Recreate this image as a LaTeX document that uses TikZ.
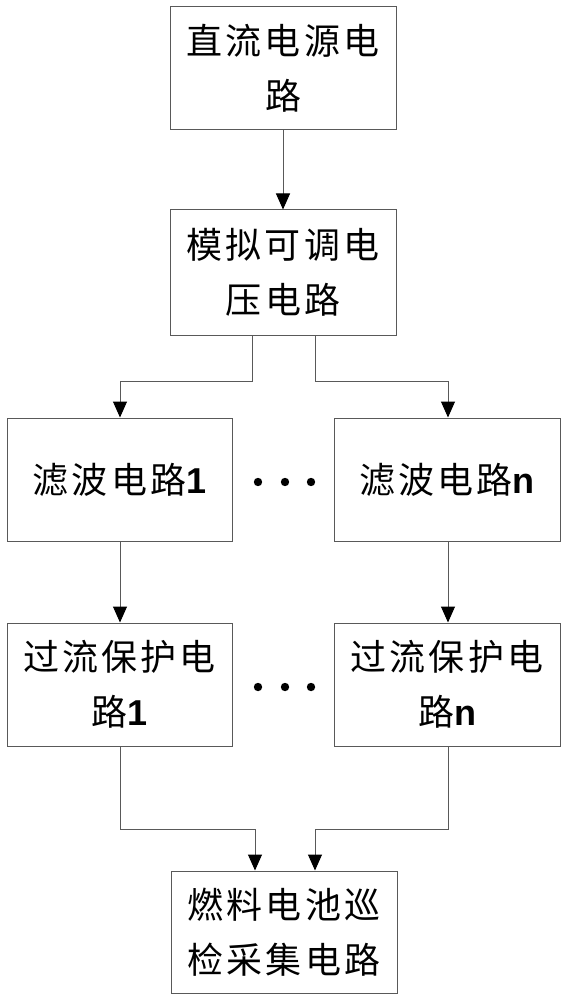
\documentclass[tikz,border=0pt]{standalone}
\usepackage{fontspec}
\newfontfamily\cjk[LetterSpace=9]{Noto Sans CJK SC}
\newfontfamily\lat{Liberation Sans}
\newcommand{\dg}[1]{{\lat\bfseries #1}}
\usetikzlibrary{arrows.meta}
\begin{document}
\begin{tikzpicture}[x=1pt,y=-1pt,
  box/.style={draw=black!65, line width=1pt, minimum width=226pt, minimum height=123pt, inner sep=0pt, align=center,
    font=\cjk\fontsize{36}{55}\selectfont},
  conn/.style={draw=black!65, line width=1pt, -{Triangle[length=16pt,width=14pt,color=black,fill=black]}},
  dot/.style={fill=black}]
\useasboundingbox (0,0) rectangle (568,1000);
\fill[white] (0,0) rectangle (568,1000);
\node[box] (b1) at (283,68.5) {直流电源电\\路};
\node[box, minimum height=125pt] (b2) at (283,272.5) {模拟可调电\\压电路};
\node[box, minimum width=225pt] (b3) at (119.5,479.5) {滤波电路\dg{1}};
\node[box] (b4) at (447,479.5) {滤波电路\dg{n}};
\node[box, minimum width=225pt] (b5) at (119.5,684.5) {过流保护电\\路\dg{1}};
\node[box] (b6) at (447,684.5) {过流保护电\\路\dg{n}};
\node[box, minimum height=122pt] (b7) at (284,932) {燃料电池巡\\检采集电路};
\coordinate (s2l) at (252,335);
\coordinate (s2r) at (315,335);
\coordinate (j1l) at (120,381);
\coordinate (j1r) at (448,381);
\coordinate (j2l) at (255,829);
\coordinate (j2r) at (315,829);
\draw[conn] (b1.south) -- (b2.north);
\draw[conn] (s2l) |- (j1l) -- (j1l |- b3.north);
\draw[conn] (s2r) |- (j1r) -- (j1r |- b4.north);
\draw[conn] (j1l |- b3.south) -- (j1l |- b5.north);
\draw[conn] (j1r |- b4.south) -- (j1r |- b6.north);
\draw[conn] (j1l |- b5.south) |- (j2l) -- (j2l |- b7.north);
\draw[conn] (j1r |- b6.south) |- (j2r) -- (j2r |- b7.north);
\foreach \x in {258,285,311}{
  \fill[dot] (\x,482) circle (4.2pt);
  \fill[dot] (\x,687) circle (4.2pt);
}
\end{tikzpicture}
\end{document}
